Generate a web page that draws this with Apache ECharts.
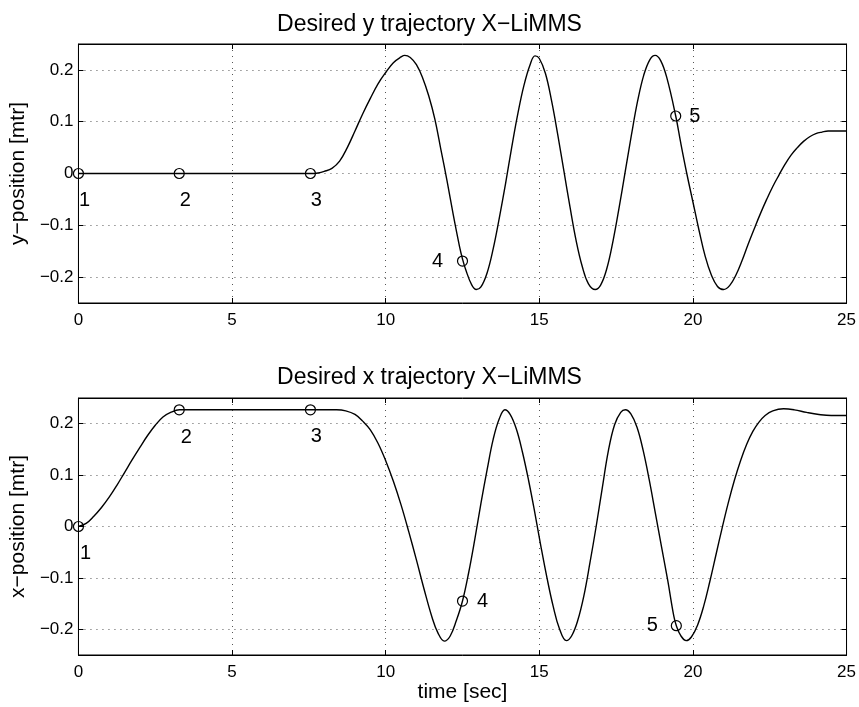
<!DOCTYPE html>
<html>
<head>
<meta charset="utf-8">
<script src="https://cdn.jsdelivr.net/npm/echarts@6/dist/echarts.min.js"></script>
<style>html,body{margin:0;padding:0;background:#fff}#c{width:859px;height:707px}</style>
</head>
<body>
<div id="c"></div>
<script>
// ---- data ----
const yTime = [0, 3.28, 7.55, 7.8, 8.0, 8.25, 8.5, 8.75, 9.0, 9.25, 9.5, 9.75, 10.0, 10.25, 10.5, 10.62, 10.8, 11.0, 11.2, 11.4, 11.6, 11.8, 12.0, 12.2, 12.4, 12.5, 12.6, 12.8, 12.95, 13.1, 13.3, 13.5, 13.7, 13.9, 14.1, 14.3, 14.5, 14.7, 14.86, 15.0, 15.2, 15.4, 15.6, 15.8, 16.0, 16.2, 16.4, 16.6, 16.82, 17.0, 17.2, 17.4, 17.6, 17.8, 18.0, 18.2, 18.4, 18.6, 18.77, 18.95, 19.15, 19.44, 19.6, 19.8, 20.0, 20.2, 20.4, 20.6, 20.8, 21.0, 21.2, 21.4, 21.6, 21.8, 22.0, 22.2, 22.4, 22.6, 22.8, 23.0, 23.2, 23.4, 23.6, 23.8, 24.0, 24.2, 24.4, 25];
const yPos  = [0, 0, 0, 0.001, 0.004, 0.01, 0.024, 0.05, 0.082, 0.115, 0.145, 0.173, 0.195, 0.214, 0.225, 0.228, 0.224, 0.21, 0.185, 0.15, 0.105, 0.045, -0.015, -0.08, -0.14, -0.165, -0.185, -0.215, -0.224, -0.219, -0.192, -0.145, -0.085, -0.02, 0.05, 0.115, 0.17, 0.21, 0.227, 0.222, 0.193, 0.14, 0.075, 0.005, -0.065, -0.13, -0.18, -0.213, -0.224, -0.215, -0.183, -0.13, -0.065, 0.005, 0.075, 0.14, 0.19, 0.22, 0.228, 0.218, 0.185, 0.111, 0.06, 0.0, -0.055, -0.11, -0.16, -0.196, -0.218, -0.224, -0.216, -0.196, -0.168, -0.136, -0.106, -0.077, -0.05, -0.025, -0.003, 0.018, 0.036, 0.05, 0.062, 0.071, 0.077, 0.08, 0.082, 0.082];

const xTime = [0, 0.25, 0.5, 0.75, 1.0, 1.25, 1.5, 1.75, 2.0, 2.25, 2.5, 2.75, 3.0, 3.29, 5, 7.55, 8.4, 8.7, 9.0, 9.25, 9.5, 9.75, 10.0, 10.25, 10.5, 10.75, 11.0, 11.25, 11.5, 11.7, 11.91, 12.1, 12.3, 12.5, 12.7, 12.9, 13.1, 13.3, 13.5, 13.7, 13.88, 14.05, 14.25, 14.45, 14.65, 14.85, 15.05, 15.25, 15.45, 15.65, 15.88, 16.05, 16.25, 16.45, 16.65, 16.85, 17.05, 17.25, 17.45, 17.65, 17.8, 17.98, 18.18, 18.38, 18.58, 18.78, 18.98, 19.18, 19.38, 19.46, 19.6, 19.78, 19.95, 20.15, 20.35, 20.55, 20.75, 20.95, 21.15, 21.35, 21.55, 21.75, 21.95, 22.15, 22.35, 22.6, 22.95, 23.3, 23.7, 24.1, 24.5, 25];
const xPos  = [0, 0.006, 0.02, 0.037, 0.057, 0.08, 0.105, 0.13, 0.154, 0.177, 0.197, 0.213, 0.222, 0.227, 0.227, 0.227, 0.227, 0.225, 0.218, 0.205, 0.188, 0.162, 0.128, 0.088, 0.042, -0.01, -0.065, -0.122, -0.175, -0.207, -0.223, -0.213, -0.183, -0.145, -0.09, -0.025, 0.045, 0.11, 0.17, 0.21, 0.227, 0.218, 0.19, 0.145, 0.09, 0.028, -0.038, -0.1, -0.155, -0.198, -0.222, -0.213, -0.183, -0.135, -0.07, 0.0, 0.075, 0.148, 0.198, 0.222, 0.227, 0.219, 0.193, 0.148, 0.09, 0.025, -0.04, -0.105, -0.175, -0.193, -0.212, -0.222, -0.215, -0.192, -0.155, -0.107, -0.055, -0.003, 0.046, 0.09, 0.128, 0.16, 0.185, 0.203, 0.216, 0.225, 0.229, 0.227, 0.222, 0.218, 0.216, 0.216];

const markNames = ['1', '2', '3', '4', '5'];
const yMarkT = [0, 3.28, 7.55, 12.5, 19.44];
const yMarkV = [0, 0, 0, -0.169, 0.111];
const xMarkT = [0, 3.28, 7.55, 12.5, 19.46];
const xMarkV = [0, 0.227, 0.227, -0.145, -0.193];

const xTicks = [0, 5, 10, 15, 20, 25];
const yTicks = [-0.2, -0.1, 0, 0.1, 0.2];

const titles = ['Desired y trajectory X\u2212LiMMS', 'Desired x trajectory X\u2212LiMMS'];
const yNames = ['y\u2212position [mtr]', 'x\u2212position [mtr]'];
const xName = 'time [sec]';

// ---- styling / layout ----
const FONT = 'Liberation Sans, Arial, sans-serif';
const topOffsets = [[6, 27], [6, 27], [6, 27], [-25, 0], [19, 0]];
const botOffsets = [[7, 27], [7, 28], [6, 27], [20, 0], [-24, 0]];

function fmtY(v) {
  const r = Math.round(v * 10) / 10;
  if (r === 0) return '0';
  return (r < 0 ? '\u2212' : '') + Math.abs(r).toString();
}

const grids = [
  { left: 75, top: 44, width: 773, height: 259, show: true, borderColor: '#000', borderWidth: 1 },
  { left: 75, top: 398, width: 773, height: 257, show: true, borderColor: '#000', borderWidth: 1 }
];

const splitStyle = { show: true, lineStyle: { color: '#555', width: 1, type: [1, 5] } };

const xAxes = [];
const yAxes = [];
[0, 1].forEach(g => {
  xAxes.push({
    type: 'value', gridIndex: g, min: 0, max: 25, interval: 5, position: 'bottom',
    name: g === 1 ? xName : '', nameLocation: 'middle', nameGap: 27,
    nameTextStyle: { fontFamily: FONT, fontSize: 21, color: '#000' },
    axisLine: { show: true, onZero: false, lineStyle: { color: '#000', width: 1 } },
    axisTick: { show: true, inside: true, length: 5, lineStyle: { color: '#000' } },
    axisLabel: { show: true, margin: 9, fontFamily: FONT, fontSize: 17, color: '#000' },
    splitLine: splitStyle
  });
  xAxes.push({
    type: 'value', gridIndex: g, min: 0, max: 25, interval: 5, position: 'top',
    axisLine: { show: true, onZero: false, lineStyle: { color: '#000', width: 1 } },
    axisTick: { show: true, inside: true, length: 5, lineStyle: { color: '#000' } },
    axisLabel: { show: false }, splitLine: { show: false }
  });
  yAxes.push({
    type: 'value', gridIndex: g, min: -0.25, max: 0.25, position: 'left',
    name: yNames[g], nameLocation: 'middle', nameGap: 36, nameRotate: 90,
    nameTextStyle: { fontFamily: FONT, fontSize: 21, color: '#000' },
    axisLine: { show: true, onZero: false, lineStyle: { color: '#000', width: 1 } },
    axisTick: { show: true, inside: true, length: 5, customValues: yTicks, lineStyle: { color: '#000' } },
    axisLabel: { show: true, margin: 5, customValues: yTicks, formatter: fmtY, fontFamily: FONT, fontSize: 17, color: '#000' },
    splitLine: splitStyle
  });
  yAxes.push({
    type: 'value', gridIndex: g, min: -0.25, max: 0.25, position: 'right',
    axisLine: { show: true, onZero: false, lineStyle: { color: '#000', width: 1 } },
    axisTick: { show: true, inside: true, length: 5, customValues: yTicks, lineStyle: { color: '#000' } },
    axisLabel: { show: false }, splitLine: { show: false }
  });
});

function lineSeries(ts, vs, g) {
  return {
    type: 'line', xAxisIndex: g * 2, yAxisIndex: g * 2, data: ts.map((t, i) => [t, vs[i]]),
    smooth: 0.4, showSymbol: false, symbol: 'none',
    lineStyle: { color: '#000', width: 1.4 }, silent: true, z: 3
  };
}
function markSeries(ts, vs, g, offs) {
  return {
    type: 'scatter', xAxisIndex: g * 2, yAxisIndex: g * 2,
    data: ts.map((t, i) => ({
      value: [t, vs[i]], name: markNames[i],
      label: { show: true, position: 'inside', offset: offs[i], formatter: markNames[i] }
    })),
    symbol: 'circle', symbolSize: 10,
    itemStyle: { color: 'rgba(255,255,255,0)', borderColor: '#000', borderWidth: 1.2, opacity: 1 },
    label: { fontFamily: FONT, fontSize: 20, color: '#000', textBorderWidth: 0, textBorderColor: 'transparent', align: 'center', verticalAlign: 'middle' },
    silent: true, z: 4
  };
}

const option = {
  backgroundColor: '#fff',
  animation: false,
  title: [
    { text: titles[0], left: 'center', top: 8, textStyle: { fontFamily: FONT, fontSize: 23, fontWeight: 'normal', color: '#000' } },
    { text: titles[1], left: 'center', top: 361, textStyle: { fontFamily: FONT, fontSize: 23, fontWeight: 'normal', color: '#000' } }
  ],
  grid: grids,
  xAxis: xAxes,
  yAxis: yAxes,
  series: [
    lineSeries(yTime, yPos, 0),
    lineSeries(xTime, xPos, 1),
    markSeries(yMarkT, yMarkV, 0, topOffsets),
    markSeries(xMarkT, xMarkV, 1, botOffsets)
  ]
};
const chart = echarts.init(document.getElementById('c'), null, { renderer: 'canvas' });
chart.setOption(option);
</script>
</body>
</html>
